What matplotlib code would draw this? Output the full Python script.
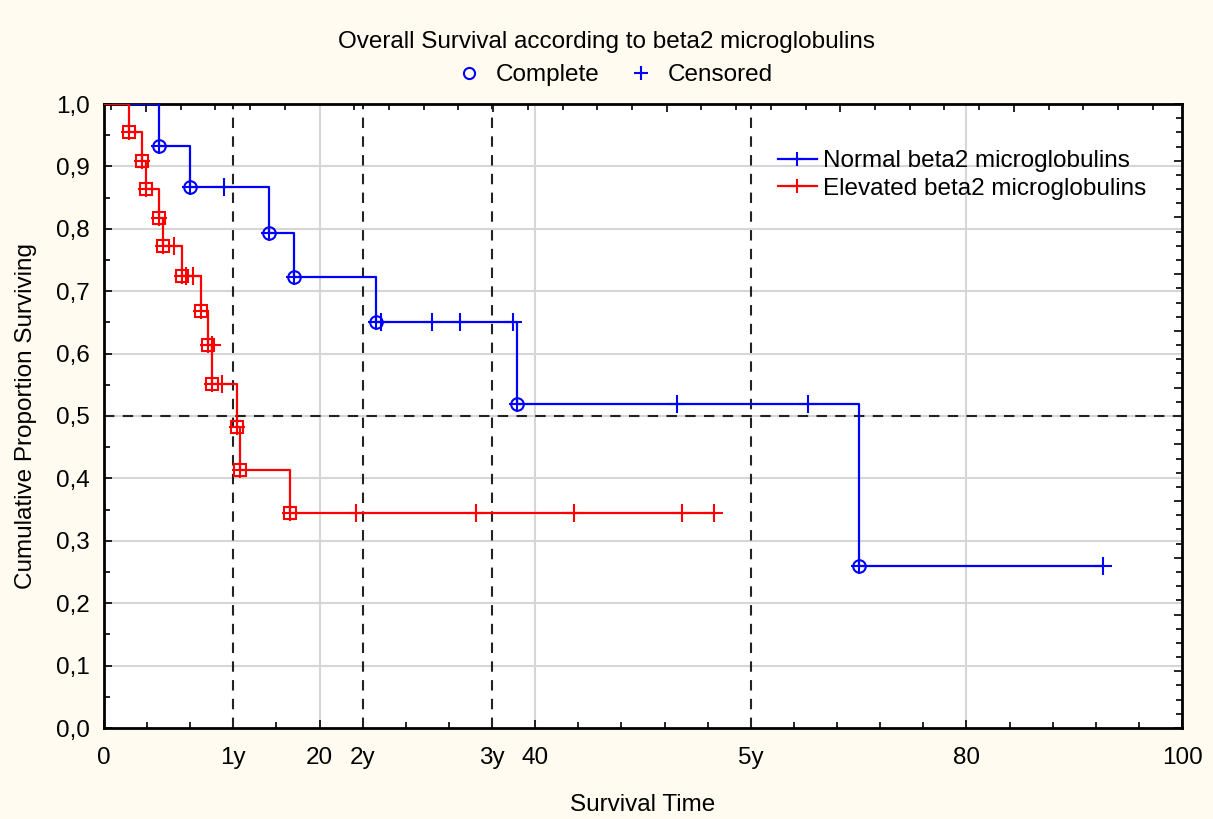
"""Kaplan-Meier style survival plot by beta2 microglobulin group."""

import matplotlib

matplotlib.use("Agg")
import matplotlib.pyplot as plt
import numpy as np
from matplotlib.lines import Line2D

plt.rcParams["font.family"] = ["Liberation Sans", "DejaVu Sans"]

# survival steps (time in months)
normal_event_t = [5.1, 8.0, 15.3, 17.65, 25.2, 38.3, 70.0]
normal_event_s = [0.933, 0.867, 0.794, 0.722, 0.650, 0.520, 0.260]
normal_cens_t = [11.1, 25.7, 30.4, 33.0, 37.9, 53.2, 65.3, 92.7]

elevated_event_t = [2.35, 3.5, 3.87, 5.13, 5.5, 7.2, 8.97, 9.68, 10.05, 12.38, 12.57, 17.28]
elevated_event_s = [0.955, 0.909, 0.864, 0.818, 0.773, 0.724, 0.669, 0.613, 0.552, 0.483, 0.414, 0.345]
elevated_cens_t = [6.5, 7.6, 8.28, 9.99, 10.92, 23.35, 34.5, 43.6, 53.6, 56.6]

x_ticks = [0, 12, 20, 24, 36, 40, 60, 80, 100]
x_tick_labels = ["0", "1y", "20", "2y", "3y", "40", "5y", "80", "100"]
year_marks = [12, 24, 36, 60]

BLUE = "#0000ff"
RED = "#ff0000"
CREAM = "#fffbf0"
FS = 17.5


def level_at(times, levels, t):
    idx = np.searchsorted(times, t, side="right") - 1
    return 1.0 if idx < 0 else levels[idx]


def draw_group(ax, ev_t, ev_s, cens_t, color, complete_marker):
    end = max(max(ev_t), max(cens_t))
    xs = [0.0] + list(ev_t) + [end]
    ys = [1.0] + list(ev_s) + [ev_s[-1]]
    ax.step(xs, ys, where="post", color=color, lw=1.6, zorder=4)
    ax.plot(ev_t, ev_s, ls="none", marker=complete_marker, ms=9, mfc="none",
            mec=color, mew=1.5, zorder=5)
    ax.plot(ev_t, ev_s, ls="none", marker="+", ms=11, mec=color, mew=1.5, zorder=5)
    cens_s = [level_at(ev_t, ev_s, t) for t in cens_t]
    ax.plot(cens_t, cens_s, ls="none", marker="+", ms=13, mec=color, mew=1.5, zorder=5)


fig = plt.figure(figsize=(12.13, 8.19), dpi=100, facecolor=CREAM)
ax = fig.add_axes([104 / 1213, 1 - 728 / 819, 1078 / 1213, 624 / 819])
ax.set_facecolor("white")

# light grid and dashed reference lines
for gx in [20, 40, 80]:
    ax.axvline(gx, color="#d6d6d6", lw=1.5, zorder=1)
for gy in np.arange(0.1, 1.0, 0.1):
    ax.axhline(gy, color="#d6d6d6", lw=1.5, zorder=1)
for yx in year_marks:
    ax.axvline(yx, color="#222222", lw=1.5, dashes=(5, 4), zorder=2)
ax.axhline(0.5, color="#222222", lw=1.5, dashes=(5, 4), zorder=2)

draw_group(ax, normal_event_t, normal_event_s, normal_cens_t, BLUE, "o")
draw_group(ax, elevated_event_t, elevated_event_s, elevated_cens_t, RED, "s")

ax.set_xlim(0, 100)
ax.set_ylim(0, 1.0)
ax.set_xticks(x_ticks, x_tick_labels)
ax.set_xticks(np.arange(0, 101, 4), minor=True)
ax.set_yticks(np.arange(0, 1.01, 0.1))
ax.set_yticks(np.arange(0, 1.01, 0.05), minor=True)
ax.yaxis.set_major_formatter(lambda v, _: f"{v:.1f}".replace(".", ","))
ax.tick_params(which="both", direction="in", labelsize=FS, width=1.2)
ax.tick_params(which="major", length=6)
ax.tick_params(which="minor", length=4)
ax.tick_params(axis="x", pad=14)
ax.tick_params(axis="y", pad=10)
for sp in ax.spines.values():
    sp.set_linewidth(2)
    sp.set_color("black")

# unlabeled secondary scales on top and right
top = ax.secondary_xaxis("top")
top.set_xticks(np.arange(3.9, 100, 16.1))
top.set_xticks(np.arange(0.68, 100, 3.22), minor=True)
top.tick_params(which="both", direction="in", labeltop=False, width=1.2)
top.tick_params(which="major", length=6)
top.tick_params(which="minor", length=4)
right = ax.secondary_yaxis("right")
right.set_yticks(np.arange(0, 1.001, 1 / 11))
right.set_yticks(np.arange(0, 1.001, 1 / 44), minor=True)
right.tick_params(which="both", direction="in", labelright=False, width=1.2)
right.tick_params(which="major", length=6)
right.tick_params(which="minor", length=4)

ax.set_xlabel("Survival Time", fontsize=FS, labelpad=18)
ax.set_ylabel("Cumulative Proportion Surviving", fontsize=FS, labelpad=14)

group_handles = [
    Line2D([], [], color=BLUE, lw=1.6, marker="+", ms=10, mew=1.5),
    Line2D([], [], color=RED, lw=1.6, marker="+", ms=10, mew=1.5),
]
ax.legend(group_handles, ["Normal beta2 microglobulins", "Elevated beta2 microglobulins"],
          loc="upper left", bbox_to_anchor=(0.614, 0.945), frameon=False, fontsize=FS,
          handlelength=1.6, handletextpad=0.25, labelspacing=0.22, borderpad=0)

fig.text(0.5, 1 - 42 / 819, "Overall Survival according to beta2 microglobulins",
         ha="center", va="center", fontsize=FS)
mark_handles = [
    Line2D([], [], ls="none", marker="o", ms=8, mfc="none", mec=BLUE, mew=1.5),
    Line2D([], [], ls="none", marker="+", ms=10, mec=BLUE, mew=1.5),
]
fig.legend(mark_handles, ["Complete", "Censored"], loc="center",
           bbox_to_anchor=(0.507, 1 - 75 / 819), ncols=2, frameon=False, fontsize=FS,
           handlelength=1.0, handletextpad=0.6, columnspacing=1.2, borderpad=0)

fig.savefig("out.png", dpi=100, facecolor=CREAM)
